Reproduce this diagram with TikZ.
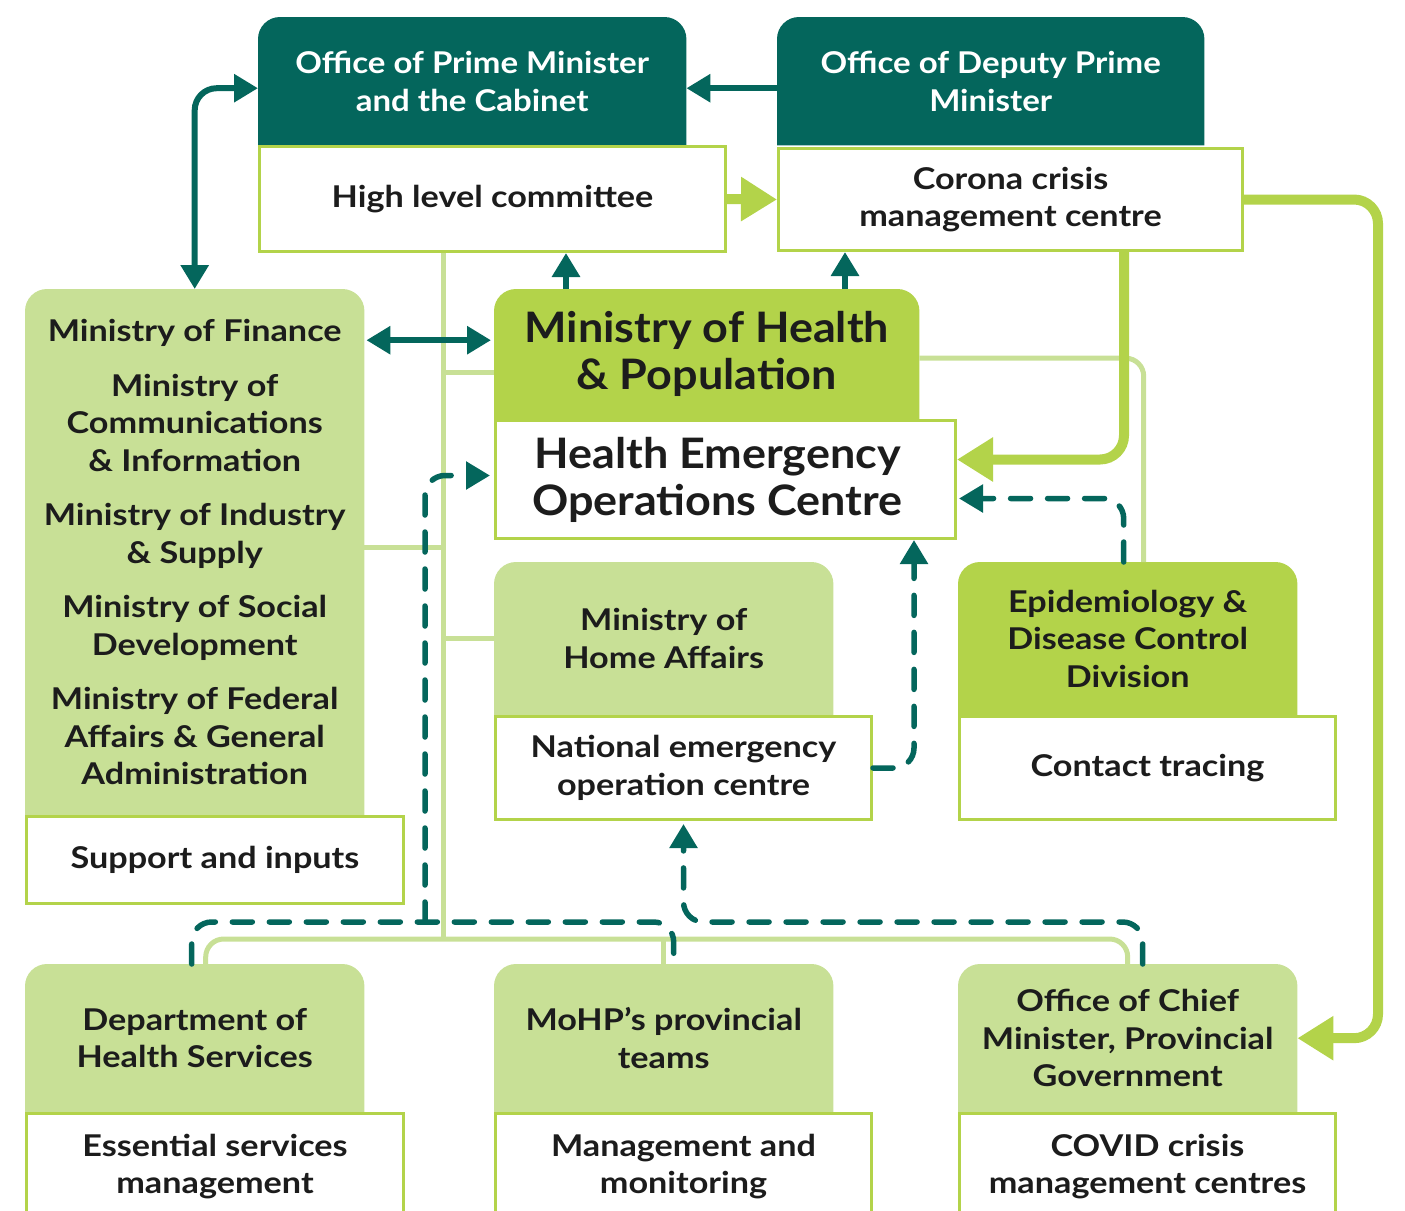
\documentclass[tikz,border=0pt]{standalone}
\usepackage{fontspec}
\setmainfont{Lato}[FakeStretch=1.14]
\newfontfamily\headfam{Lato}[FakeStretch=1.10]
\newfontfamily\bigfam{Lato}[FakeStretch=1.07]
\usetikzlibrary{arrows.meta,backgrounds,calc}

\definecolor{tealc}{HTML}{04665C}
\definecolor{limec}{HTML}{B3D34A}
\definecolor{palec}{HTML}{C8E096}
\definecolor{inkc}{HTML}{1C1C1C}

\newcommand{\txtM}{\fontsize{30}{37.5}\selectfont\bfseries}
\newcommand{\txtH}{\headfam\fontsize{30}{37.5}\selectfont\bfseries}
\newcommand{\txtL}{\bigfam\fontsize{42}{47}\selectfont\bfseries}

\begin{document}
\begin{tikzpicture}[x=1pt,y=-1pt,
  box/.style={inner sep=0pt, anchor=north west, align=center, text=inkc, font=\txtM},
  headdark/.style={box, text=white, font=\txtH},
  whitebox/.style={box, fill=white, draw=limec, line width=3pt},
  tealln/.style={draw=tealc, line width=6pt},
  tealdash/.style={draw=tealc, line width=5.5pt, line cap=round, dash pattern=on 20pt off 17pt, rounded corners=20pt},
  limeln/.style={draw=limec, line width=10pt, rounded corners=24pt},
  paleln/.style={draw=palec, line width=5pt, rounded corners=18pt},
  ttip/.tip={Triangle[width=27pt,length=24pt]},
  ltip/.tip={Triangle[width=42pt,length=36pt]},
]
\useasboundingbox (0,0) rectangle (1405,1210);

% ---------- top row ----------
\node[headdark, minimum width=428pt, minimum height=128pt] (pmh) at (258,17)
  {Office of Prime Minister\\and the Cabinet};
\node[whitebox, minimum width=466pt, minimum height=105pt] (hlc) at (258,145)
  {High level committee};
\node[headdark, minimum width=427pt, minimum height=128pt] (dpmh) at (777,17)
  {Office of Deputy Prime\\Minister};
\node[whitebox, minimum width=464pt, minimum height=102pt] (ccmc) at (777,147)
  {Corona crisis\\management centre};

% ---------- middle ----------
\node[box, font=\txtL, minimum width=425pt, minimum height=130pt] (mohp) at (494,289)
  {Ministry of Health\\\& Population};
\node[whitebox, font=\txtL, minimum width=460pt, minimum height=118pt] (heoc) at (494,419)
  {Health Emergency\hspace*{16pt}\\Operations Centre\hspace*{16pt}};

\node[box, minimum width=339pt, minimum height=526pt] (min) at (25,289)
  {Ministry of Finance\\[17pt]Ministry of\\Communications\\\& Information\\[17pt]Ministry of Industry\\\& Supply\\[17pt]Ministry of Social\\Development\\[17pt]Ministry of Federal\\Affairs \& General\\Administration};
\node[whitebox, minimum width=377pt, minimum height=87pt] (sup) at (25,815)
  {Support and inputs};

\node[box, minimum width=339pt, minimum height=153pt] (homeh) at (494,562)
  {Ministry of\\Home Affairs};
\node[whitebox, minimum width=376pt, minimum height=103pt] (neoc) at (494,715)
  {National emergency\\operation centre};

\node[box, minimum width=339pt, minimum height=153pt] (epih) at (958,562)
  {Epidemiology \&\\Disease Control\\Division};
\node[whitebox, minimum width=376pt, minimum height=103pt] (ct) at (958,715)
  {Contact tracing};

% ---------- bottom row ----------
\node[box, minimum width=339pt, minimum height=148pt] (dhsh) at (25,964)
  {Department of\\Health Services};
\node[whitebox, minimum width=377pt, minimum height=106pt] (esm) at (25,1112)
  {Essential services\\management};
\node[box, minimum width=339pt, minimum height=148pt] (mpt) at (494,964)
  {MoHP’s provincial\\teams};
\node[whitebox, minimum width=376pt, minimum height=106pt] (mm) at (494,1112)
  {Management and\\monitoring};
\node[box, minimum width=339pt, minimum height=148pt] (ocmh) at (958,964)
  {Office of Chief\\Minister, Provincial\\Government};
\node[whitebox, minimum width=376pt, minimum height=106pt] (ccm) at (958,1112)
  {COVID crisis\\management centres};

% header panels with rounded top corners
\begin{scope}[on background layer]
  \foreach \n/\c in {pmh/tealc, dpmh/tealc, mohp/limec, epih/limec,
                     min/palec, homeh/palec, dhsh/palec, mpt/palec, ocmh/palec}
    \fill[\c] (\n.south west) [rounded corners=22pt] -- (\n.north west)
      -- (\n.north east) [sharp corners] -- (\n.south east) -- cycle;
\end{scope}

% ---------- helper coordinates ----------
\coordinate (tr) at ($(hlc.south west)+(185,0)$);
\coordinate (busc) at (443,939);
\coordinate (dbus) at (425,922);
\coordinate (rbus) at (900,922);
\coordinate (rr) at (1378,600);
\coordinate (mh1) at ($(mohp.north west)+(72,0)$);
\coordinate (mh2) at ($(mohp.north west)+(351,0)$);
\coordinate (cc1) at ($(ccmc.south west)+(347,0)$);
\coordinate (hb) at ($(heoc.south east)+(-43,0)$);
\coordinate (fm) at ([yshift=14pt]mohp.west);

% ---------- pale links ----------
\draw[paleln] (tr) -- (busc);
\draw[paleln] ([xshift=11pt]dhsh.north) |- (busc) -| (ocmh.north);
\draw[paleln] (mpt.north |- busc) -- (mpt.north);
\draw[paleln] ([yshift=-18pt]mohp.west -| tr) -- ([yshift=-18pt]mohp.west);
\draw[paleln] ([yshift=5pt]min.east) -- ([yshift=5pt]min.east -| tr);
\draw[paleln] (homeh.west -| tr) -- (homeh.west);
\draw[paleln] ([yshift=-4pt]mohp.east) -| ([xshift=16pt]epih.north);

% ---------- lime flows ----------
\draw[limeln, -{ltip}] (hlc.east) -- (ccmc.west);
\draw[limeln, -{ltip}] (cc1) |- ([yshift=20pt]heoc.east);
\draw[limeln, -{ltip}] (ccmc.east) -- (ccmc.east -| rr) -- (rr |- ocmh.east) -- (ocmh.east);

% ---------- teal links ----------
\draw[tealln, rounded corners=22pt, {ttip}-{ttip}] (min.north) |- ([yshift=-7pt]pmh.west);
\draw[tealln, -{ttip}] ([yshift=-7pt]dpmh.west) -- ([yshift=-7pt]pmh.east);
\draw[tealln, -{ttip}] (mh1) -- (mh1 |- hlc.south);
\draw[tealln, -{ttip}] (mh2) -- (mh2 |- ccmc.south);
\draw[tealln, {ttip}-{ttip}, shorten <=2pt, shorten >=3pt] (min.east |- fm) -- (fm);

% ---------- dashed teal links ----------
\draw[tealdash] ([xshift=-3pt]dhsh.north) |- (dbus) -| ([xshift=10pt]mpt.north);
\draw[tealdash, -{ttip}, shorten >=4pt] (dbus) |- ([yshift=4pt]heoc.west);
\draw[tealdash, -{ttip}, shorten >=3pt] ([xshift=15pt]ocmh.north) |- (rbus) -| (neoc.south);
\draw[tealdash, -{ttip}] (neoc.east) -| (hb);
\draw[tealdash, -{ttip}, shorten >=2pt] ([xshift=-4pt]epih.north) |- ([yshift=-19pt]heoc.east);

\end{tikzpicture}
\end{document}
